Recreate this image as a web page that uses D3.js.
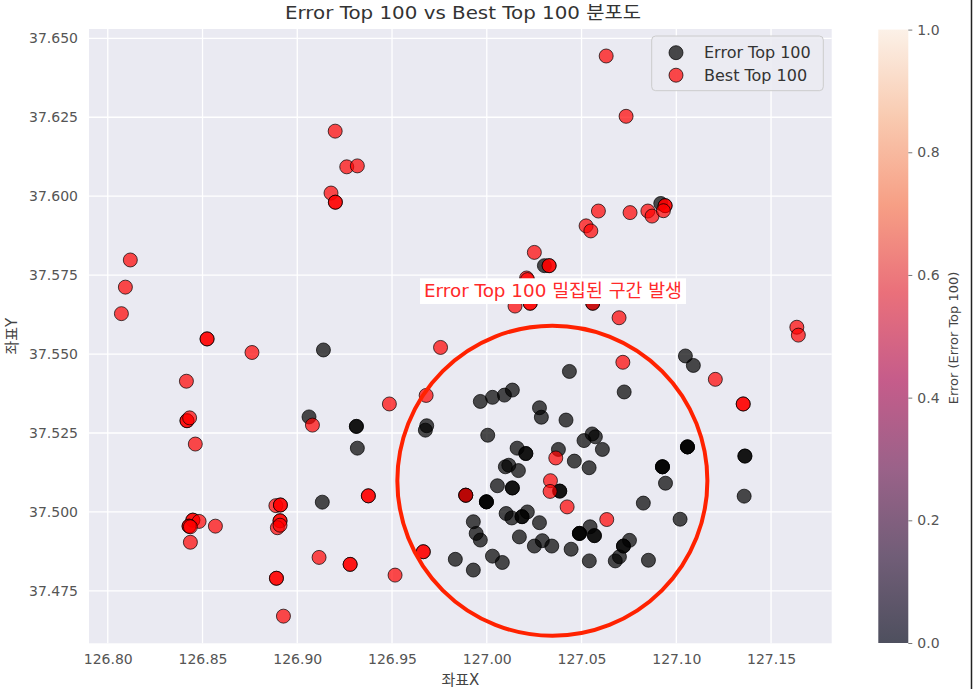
<!DOCTYPE html>
<html><head><meta charset="utf-8">
<script src="https://cdn.jsdelivr.net/npm/d3@7"></script>
<style>
body{margin:0;background:#fff;}
svg{display:block;font-family:"DejaVu Sans","Noto Sans CJK KR",sans-serif;}
</style></head>
<body><svg id="c" width="973" height="689"></svg>
<script>
// ---- data ----
const errorLon = [126.9138,126.9062,126.9312,126.9312,126.9317,126.9132,126.9683,126.9676,127.0005,126.9966,127.0030,127.0093,127.0135,127.0436,127.0278,127.0288,127.0418,127.0160,127.0206,127.0206,127.0378,127.0462,127.0540,127.0556,127.0573,127.0513,127.0610,127.0098,127.0116,127.0167,127.0056,127.0135,127.0135,127.0385,127.0385,126.9889,126.9889,126.9998,126.9998,126.9998,127.0102,127.0132,127.0186,127.0186,127.0214,126.9929,126.9944,126.9966,127.0278,127.0172,127.0251,127.0293,127.0343,127.0445,127.0489,127.0489,127.0489,127.0545,127.0568,127.0568,127.0541,126.9834,126.9929,127.0030,127.0082,127.1048,127.1090,127.0725,127.1059,127.1059,127.1059,127.1362,127.1362,127.0927,127.0927,127.0927,127.0943,127.1358,127.0826,127.1020,127.0753,127.0721,127.0721,127.0700,127.0678,127.0853,127.0918,127.0304,127.0559];
const errorLat = [37.5513,37.5301,37.5271,37.5271,37.5202,37.5031,37.5273,37.5259,37.5243,37.5350,37.5363,37.5370,37.5386,37.5445,37.5330,37.5300,37.5291,37.5202,37.5185,37.5185,37.5198,37.5161,37.5140,37.5247,37.5238,37.5226,37.5198,37.5143,37.5148,37.5131,37.5083,37.5076,37.5076,37.5066,37.5066,37.5053,37.5053,37.5032,37.5032,37.5032,37.4995,37.4981,37.4985,37.4985,37.5000,37.4969,37.4932,37.4911,37.4966,37.4921,37.4892,37.4909,37.4892,37.4882,37.4932,37.4932,37.4932,37.4953,37.4925,37.4925,37.4845,37.4850,37.4816,37.4860,37.4840,37.5494,37.5464,37.5380,37.5206,37.5206,37.5206,37.5177,37.5177,37.5143,37.5143,37.5143,37.5091,37.5050,37.5028,37.4977,37.4910,37.4892,37.4892,37.4858,37.4845,37.4847,37.5977,37.5780,37.5661];
const bestLon = [126.9200,126.9261,126.9317,126.9178,126.9201,126.9201,126.8119,126.8093,126.8072,126.8524,126.8524,127.0630,127.0735,127.0589,127.0756,127.0850,127.0872,127.0941,127.0941,127.0932,127.0524,127.0549,127.0251,127.0329,127.0329,127.0210,127.0215,127.0149,127.0229,127.0229,127.0559,127.0698,127.1636,127.1644,126.8761,126.8415,126.8418,126.8418,126.8432,126.9080,126.9486,126.8462,126.8887,126.8911,126.8911,126.9375,126.9375,126.8449,126.8449,126.8482,126.8429,126.8429,126.8436,126.8568,126.8436,126.8909,126.8909,126.8895,126.8909,126.9115,126.9279,126.9279,126.8890,126.8890,126.9516,126.8927,126.9756,126.9680,127.0364,127.0336,127.0334,127.0424,126.9889,127.0633,126.9665,126.9665,127.0718,127.1206,127.1353,127.1353];
const bestLat = [37.6206,37.6093,37.6096,37.6010,37.5981,37.5981,37.5798,37.5712,37.5628,37.5548,37.5548,37.6444,37.6253,37.5953,37.5948,37.5953,37.5937,37.5970,37.5970,37.5954,37.5906,37.5890,37.5822,37.5780,37.5780,37.5741,37.5736,37.5652,37.5661,37.5661,37.5661,37.5615,37.5585,37.5560,37.5505,37.5414,37.5289,37.5289,37.5298,37.5275,37.5342,37.5215,37.5020,37.5022,37.5022,37.5051,37.5051,37.4974,37.4974,37.4970,37.4955,37.4955,37.4953,37.4955,37.4904,37.4972,37.4972,37.4950,37.4958,37.4856,37.4834,37.4834,37.4790,37.4790,37.4800,37.4670,37.5521,37.5369,37.5171,37.5099,37.5065,37.5016,37.5053,37.4976,37.4874,37.4874,37.5474,37.5420,37.5342,37.5342];
const xTicks = [126.80,126.85,126.90,126.95,127.00,127.05,127.10,127.15];
const yTicks = [37.475,37.500,37.525,37.550,37.575,37.600,37.625,37.650];
const cbTicks = [0.0,0.2,0.4,0.6,0.8,1.0];
const rocketStops = ["#03051A","#35193e","#701f57","#ad1759","#e13342","#f37651","#f6b48f","#FAEBDD"];
const xDomain = [126.7901,127.182];
const yDomain = [37.4584,37.65295];
const titleText = "Error Top 100 vs Best Top 100 분포도";
const noteText = "Error Top 100 밀집된 구간 발생";
const circleCenter = [127.0346,37.5099];
const circleRadius = [0.0818,0.0491];
const seriesNames = ["Error Top 100","Best Top 100"];

// ---- layout ----
const FONT = '"DejaVu Sans","Noto Sans CJK KR",sans-serif';
const svg = d3.select("#c");
const P = {l:89,r:831.7,t:29,b:643.3};
const x = d3.scaleLinear().domain(xDomain).range([P.l,P.r]);
const y = d3.scaleLinear().domain(yDomain).range([P.b,P.t]);

svg.append("rect").attr("width",973).attr("height",689).attr("fill","#fff");
svg.append("rect").attr("x",P.l).attr("y",P.t).attr("width",P.r-P.l).attr("height",P.b-P.t).attr("fill","#eaeaf2");

// grid
svg.append("g").selectAll("line").data(xTicks).join("line")
  .attr("x1",d=>x(d)).attr("x2",d=>x(d)).attr("y1",P.t).attr("y2",P.b)
  .attr("stroke","#fff").attr("stroke-width",1.3);
svg.append("g").selectAll("line").data(yTicks).join("line")
  .attr("y1",d=>y(d)).attr("y2",d=>y(d)).attr("x1",P.l).attr("x2",P.r)
  .attr("stroke","#fff").attr("stroke-width",1.3);

// axes
const gx = svg.append("g").attr("transform",`translate(0,${P.b})`)
  .call(d3.axisBottom(x).tickValues(xTicks).tickFormat(d3.format(".2f")).tickSize(0).tickPadding(10.5));
const gy = svg.append("g").attr("transform",`translate(${P.l},0)`)
  .call(d3.axisLeft(y).tickValues(yTicks).tickFormat(d3.format(".3f")).tickSize(0).tickPadding(11));
[gx,gy].forEach(g=>{
  g.attr("font-family",FONT).attr("font-size",14);
  g.select(".domain").remove();
  g.selectAll("text").attr("fill","#555");
});

// points
const errPts = errorLon.map((d,i)=>[d,errorLat[i]]);
const bestPts = bestLon.map((d,i)=>[d,bestLat[i]]);
svg.append("g").selectAll("circle").data(errPts).join("circle")
  .attr("cx",d=>x(d[0])).attr("cy",d=>y(d[1])).attr("r",7)
  .attr("fill","rgba(0,0,0,0.7)").attr("stroke","rgba(0,0,0,0.7)").attr("stroke-width",1);
svg.append("g").selectAll("circle").data(bestPts).join("circle")
  .attr("cx",d=>x(d[0])).attr("cy",d=>y(d[1])).attr("r",7)
  .attr("fill","rgba(255,0,0,0.7)").attr("stroke","rgba(0,0,0,0.7)").attr("stroke-width",1);

// annotation circle
const cx0 = x(circleCenter[0]), cy0 = y(circleCenter[1]);
svg.append("ellipse").attr("cx",cx0).attr("cy",cy0)
  .attr("rx",x(circleCenter[0]+circleRadius[0])-cx0)
  .attr("ry",cy0-y(circleCenter[1]+circleRadius[1]))
  .attr("fill","none").attr("stroke","#ff2200").attr("stroke-width",4);

// annotation text
const noteG = svg.append("g");
noteG.append("rect").attr("fill","#fff").attr("x",420).attr("y",278.3).attr("width",266).attr("height",25.7);
noteG.append("text").attr("x",553).attr("y",291).attr("dy","0.36em")
  .attr("text-anchor","middle").attr("font-size",18).attr("fill","#ff2a2a")
  .attr("textLength",258).attr("lengthAdjust","spacingAndGlyphs").text(noteText);

// legend
const lg = svg.append("g");
lg.append("rect").attr("x",651.7).attr("y",36).attr("width",171.6).attr("height",54.7)
  .attr("rx",4).attr("fill","#ebebf2").attr("fill-opacity",0.9).attr("stroke","#cccccc").attr("stroke-width",1);
const lgFill = ["rgba(0,0,0,0.7)","rgba(255,0,0,0.7)"];
seriesNames.forEach((s,i)=>{
  const yy = 52.7 + i*22.5;
  lg.append("circle").attr("cx",676).attr("cy",yy).attr("r",7)
    .attr("fill",lgFill[i]).attr("stroke","rgba(0,0,0,0.7)");
  lg.append("text").attr("x",704).attr("y",yy).attr("dy","0.36em").attr("font-size",16)
    .attr("fill","#333").text(s);
});

// title & labels
svg.append("text").attr("x",463).attr("y",13).attr("dy","0.36em").attr("text-anchor","middle")
  .attr("font-size",18).attr("fill","#333").attr("textLength",356).attr("lengthAdjust","spacingAndGlyphs").text(titleText);
svg.append("text").attr("x",(P.l+P.r)/2).attr("y",680).attr("dy","0.36em").attr("text-anchor","middle")
  .attr("font-size",15).attr("fill","#444").text("좌표X");
svg.append("text").attr("transform",`translate(12,${(P.t+P.b)/2}) rotate(-90)`).attr("dy","0.36em")
  .attr("text-anchor","middle").attr("font-size",15).attr("fill","#444").text("좌표Y");

// colorbar
const cb = d3.scaleLinear().domain([0,1]).range([643,29.6]);
const defs = svg.append("defs");
const grad = defs.append("linearGradient").attr("id","rocket").attr("x1",0).attr("x2",0).attr("y1",1).attr("y2",0);
rocketStops.forEach((c,i)=>grad.append("stop").attr("offset",i/(rocketStops.length-1)).attr("stop-color",c));
svg.append("rect").attr("x",878.3).attr("y",cb(1)).attr("width",30).attr("height",cb(0)-cb(1))
  .attr("fill","url(#rocket)").attr("fill-opacity",0.7);
const gcb = svg.append("g").attr("transform","translate(908.3,0)")
  .call(d3.axisRight(cb).tickValues(cbTicks).tickFormat(d3.format(".1f")).tickSize(4).tickPadding(5));
gcb.attr("font-family",FONT).attr("font-size",14);
gcb.select(".domain").remove();
gcb.selectAll("line").attr("stroke","#777");
gcb.selectAll("text").attr("fill","#555");
svg.append("text").attr("transform",`translate(953,338) rotate(-90)`).attr("dy","0.36em")
  .attr("text-anchor","middle").attr("font-size",13).attr("fill","#444").text("Error (Error Top 100)");

// right edge line
svg.append("line").attr("x1",971.5).attr("x2",971.5).attr("y1",0).attr("y2",689).attr("stroke","#222").attr("stroke-width",1.5);
</script></body></html>
